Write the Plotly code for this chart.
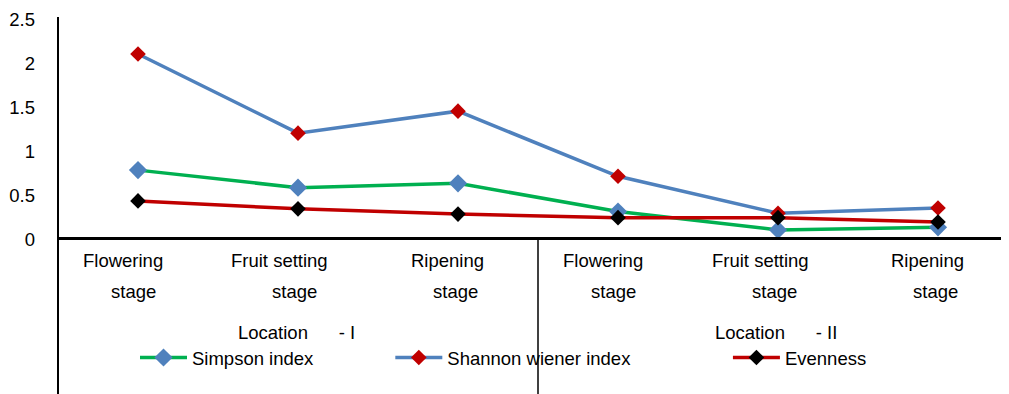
import plotly.graph_objects as go

stages_line1 = ["Flowering", "Fruit setting", "Ripening", "Flowering", "Fruit setting", "Ripening"]
stages_line2 = ["stage", "stage", "stage", "stage", "stage", "stage"]
locations = ["Location\u00a0\u00a0\u00a0\u00a0\u00a0\u00a0- I", "Location\u00a0\u00a0\u00a0\u00a0\u00a0\u00a0- II"]
series_names = ["Simpson index", "Shannon wiener index", "Evenness"]
simpson = [0.76, 0.56, 0.61, 0.29, 0.08, 0.11]
shannon = [2.08, 1.18, 1.43, 0.69, 0.27, 0.33]
evenness = [0.41, 0.32, 0.26, 0.22, 0.22, 0.17]
y_ticks = [0, 0.5, 1, 1.5, 2, 2.5]
y_ticktext = ["0", "0.5", "1", "1.5", "2", "2.5"]

FONT = "Liberation Sans, Arial, sans-serif"
FS = 18.5
x = list(range(len(stages_line1)))
NB = "\u00a0"
pads = [14, 18, 0]

fig = go.Figure()
fig.add_trace(go.Scatter(x=x, y=simpson, mode="lines+markers", name=series_names[0] + NB * pads[0],
                         line=dict(color="#00B050", width=3.5),
                         marker=dict(symbol="diamond", size=14, color="#4F81BD")))
fig.add_trace(go.Scatter(x=x, y=shannon, mode="lines+markers", name=series_names[1] + NB * pads[1],
                         line=dict(color="#4F81BD", width=3.5),
                         marker=dict(symbol="diamond", size=12, color="#C00000")))
fig.add_trace(go.Scatter(x=x, y=evenness, mode="lines+markers", name=series_names[2] + NB * pads[2],
                         line=dict(color="#C00000", width=3.5),
                         marker=dict(symbol="diamond", size=12, color="#000000")))

# page body has an 8px margin: build the figure 8px smaller and shifted
OFF = 8
REF_W, REF_H = 1009, 394
W, H = REF_W - OFF, REF_H - OFF
ml, mt = 58 - OFF, 17 - OFF
plot_h = H - mt
plot_w = W - ml
y0_frac = (REF_H - 237) / plot_h

def py(pix):
    return (REF_H - pix) / plot_h

annotations = []
shift1 = [-15, -19, -11, -15, -18, -11]
shift2 = [-5, -4, -3, -5, -4, -3]
for i in x:
    annotations.append(dict(x=i, y=py(261), xref="x", yref="paper", text=stages_line1[i],
                            showarrow=False, xshift=shift1[i], yanchor="middle",
                            font=dict(family=FONT, size=FS, color="#000")))
    annotations.append(dict(x=i, y=py(291), xref="x", yref="paper", text=stages_line2[i],
                            showarrow=False, xshift=shift2[i], yanchor="middle",
                            font=dict(family=FONT, size=FS, color="#000")))
for j, loc in enumerate(locations):
    annotations.append(dict(x=1 + 3 * j, y=py(332), xref="x", yref="paper", text=loc,
                            showarrow=False, xshift=-2, yanchor="middle",
                            font=dict(family=FONT, size=FS, color="#000")))

shapes = [
    dict(type="line", xref="paper", yref="paper", x0=0, x1=0, y0=0, y1=1,
         line=dict(color="#000", width=2)),
    dict(type="line", xref="x", yref="paper", x0=2.5, x1=2.5, y0=0, y1=y0_frac,
         line=dict(color="#000", width=1.5)),
]

span = plot_w / 160.0
fig.update_layout(
    width=W, height=H,
    margin=dict(l=ml, r=0, t=mt, b=0, autoexpand=False),
    paper_bgcolor="white", plot_bgcolor="white",
    font=dict(family=FONT, size=FS, color="#000"),
    xaxis=dict(range=[-0.5, -0.5 + span], showticklabels=False, ticks="", automargin=False,
               showgrid=False, zeroline=False, showline=True, linecolor="#000", linewidth=2.5),
    yaxis=dict(domain=[y0_frac, 1], range=[0, 2.5], tickvals=y_ticks, ticktext=y_ticktext,
               ticks="", showgrid=False, zeroline=False, showline=False, automargin=False,
               ticklabelstandoff=22, ticklabeloverflow="allow", ticklabelshift=3,
               tickfont=dict(family=FONT, size=FS, color="#000")),
    showlegend=True,
    legend=dict(orientation="h", x=(135 - 58) / plot_w, xanchor="left",
                y=py(358), yanchor="middle", bgcolor="rgba(0,0,0,0)",
                font=dict(family=FONT, size=FS, color="#000"), itemwidth=47,
                traceorder="normal"),
    annotations=annotations,
    shapes=shapes,
)

fig.write_html("out.html")
